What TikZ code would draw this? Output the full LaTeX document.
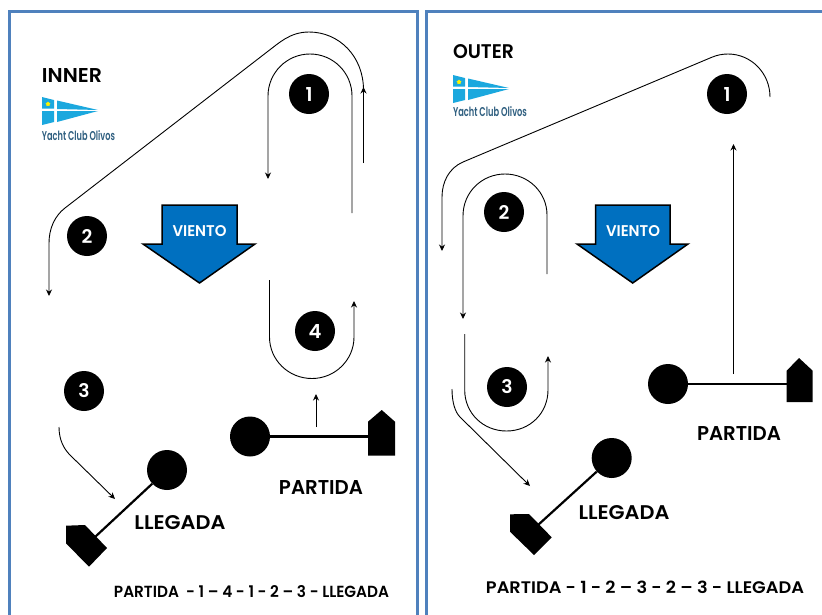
\documentclass[tikz,border=0pt]{standalone}
\usepackage{graphicx}
\usepackage{fontspec}
\setmainfont{Poppins}[BoldFont={Poppins SemiBold}]
\usetikzlibrary{arrows.meta,shapes.geometric}
\definecolor{panelblue}{HTML}{4F81BD}
\definecolor{windblue}{HTML}{0070C0}
\definecolor{flagblue}{HTML}{1BA8DE}
\definecolor{logotext}{HTML}{2F5F80}
\newcommand{\lbl}[3]{\resizebox{#1pt}{#2pt}{\bfseries #3}}
\tikzset{
  panel/.style={draw=panelblue,line width=3pt},
  buoy/.style={circle,fill=black,minimum size=40pt,inner sep=0pt,text=white},
  startdot/.style={circle,fill=black,minimum size=40pt,inner sep=0pt},
  boat/.style={fill=black},
  gateline/.style={line width=2.2pt,black},
  course/.style={line width=0.9pt,black},
  leg/.style={course,-{Stealth[length=6.5pt,width=6pt]}},
  wind/.style={draw=black,line width=1.5pt,fill=windblue,miter limit=10},
  caption/.style={inner sep=0pt,text=black},
  ycoflag/.pic={
    \fill[flagblue] (42,97) -- (54,100) -- (54,108.5) -- (42,108.5) -- cycle;
    \fill[flagblue] (42,111) -- (54,111) -- (54,122) -- (42,125) -- cycle;
    \fill[flagblue] (57,100.5) -- (98,110) -- (57,109) -- cycle;
    \fill[flagblue] (57,111) -- (98,111) -- (57,122) -- cycle;
    \node[star,star points=5,fill=yellow,minimum size=5pt,inner sep=0pt] at (48,104) {};
  }
}
\begin{document}
\begin{tikzpicture}[x=1pt,y=-1pt]
\useasboundingbox (0,0) rectangle (822,614);
\fill[white] (0,0) rectangle (822,614);
% panels
\draw[panel] (9,620) -- (9,11) -- (417.5,11) -- (417.5,620);
\draw[panel] (426.7,620) -- (426.7,11) -- (830,11);

% ---------- INNER ----------
\node[caption] (innertitle) at (72,75) {\lbl{60}{14}{INNER}};
\pic at (0,0) {ycoflag};
\node[caption,text=logotext] (logoa) at (78.5,136) {\resizebox{73pt}{10pt}{\bfseries Yacht Club Olivos}};

\node[buoy] (a1) at (309,94) {\resizebox{!}{14pt}{\bfseries 1}};
\node[buoy] (a2) at (87,236) {\resizebox{!}{14pt}{\bfseries 2}};
\node[buoy] (a3) at (84,391) {\resizebox{!}{14pt}{\bfseries 3}};
\node[buoy] (a4) at (315,331) {\resizebox{!}{14pt}{\bfseries 4}};

\draw[wind] (162,205) -- (237,205) -- (237,244) -- (255,244) -- (199.5,283) -- (143,244) -- (162,244) -- cycle;
\node[caption,text=white] (awind) at (199.5,231) {\resizebox{54pt}{11pt}{\bfseries VIENTO}};

\coordinate (aOutStart) at (363.5,163);
\coordinate (aOutEnd) at (49,296);
\draw[leg] (aOutStart) -- (363.5,87);
\draw[leg] (363.5,90) .. controls (363.5,56.6) and (339.4,32) .. (309,32)
  .. controls (290,32) and (279,43) .. (267,52) -- (65,208)
  .. controls (54.5,216) and (49,229) .. (49,243) -- (aOutEnd);
\coordinate (aInStart) at (352,213);
\coordinate (aInEnd) at (268,179);
\draw[leg] (aInStart) -- (352,96) .. controls (352,72.8) and (333.2,54) .. (310,54)
  .. controls (286.8,54) and (268,72.8) .. (268,96) -- (aInEnd);
\coordinate (aBotStart) at (269.5,280);
\coordinate (aBotEnd) at (354,301);
\draw[leg] (aBotStart) -- (269.5,337) .. controls (269.5,360) and (288.5,378.5) .. (312,378.5)
  .. controls (335,378.5) and (354,360) .. (354,337) -- (aBotEnd);
\coordinate (aFinStart) at (59,427);
\coordinate (aFinEnd) at (115,499);
\draw[leg] (aFinStart) .. controls (59,440) and (64,449) .. (70,455) -- (aFinEnd);

% start line inner
\node[startdot] (aStartDot) at (250,436.5) {};
\coordinate (aStartBoat) at (369,436.5);
\fill[boat] (368,421.7) -- (381.7,410) -- (395,421.7) -- (395,455.7) -- (368,455.7) -- cycle;
\draw[gateline] (aStartDot) -- (aStartBoat);
\coordinate (aUpStart) at (316,427);
\coordinate (aUpEnd) at (316,394);
\draw[leg] (aUpStart) -- (aUpEnd);
\node[caption] (apartida) at (321,487) {\lbl{84}{14}{PARTIDA}};

% finish line inner
\node[startdot] (aFinDot) at (167,470) {};
\coordinate (aFinBoat) at (95,537);
\fill[boat] (66,525.7) -- (85,525) -- (107,548) -- (89,566.7) -- (66,543.3) -- cycle;
\draw[gateline] (aFinDot) -- (aFinBoat);
\node[caption] (allegada) at (180,523) {\lbl{91}{14}{LLEGADA}};
\node[caption] (aseq) at (251.5,592) {\lbl{275}{12}{PARTIDA\ \ - 1 -- 4 - 1 - 2 -- 3 - LLEGADA}};

% ---------- OUTER ----------
\node[caption] (outertitle) at (483.5,52) {\lbl{61}{14}{OUTER}};
\pic at (411,-22) {ycoflag};
\node[caption,text=logotext] (logob) at (490,112) {\resizebox{74pt}{10pt}{\bfseries Yacht Club Olivos}};

\node[buoy] (b1) at (727,94) {\resizebox{!}{14pt}{\bfseries 1}};
\node[buoy] (b2) at (504,212) {\resizebox{!}{14pt}{\bfseries 2}};
\node[buoy] (b3) at (507,387) {\resizebox{!}{14pt}{\bfseries 3}};

\draw[wind] (595.7,205) -- (670,205) -- (670,244) -- (688,244) -- (632.7,283) -- (577,244) -- (595.7,244) -- cycle;
\node[caption,text=white] (bwind) at (633,231) {\resizebox{54pt}{11pt}{\bfseries VIENTO}};

\coordinate (bOutStart) at (770,97);
\coordinate (bOutEnd) at (442,251);
\draw[leg] (bOutStart) .. controls (770,73) and (751,54) .. (728,54)
  .. controls (722.4,54) and (716.9,55.1) .. (711.7,57.3) -- (463,162)
  .. controls (449,168) and (442,182) .. (442,197) -- (bOutEnd);
\coordinate (bInStart) at (547,274);
\coordinate (bInEnd) at (463,319);
\draw[leg] (bInStart) -- (547,215) .. controls (547,192) and (528,174) .. (505,174)
  .. controls (482,174) and (463,192) .. (463,216) -- (bInEnd);
\coordinate (bBotStart) at (464.7,334);
\coordinate (bBotEnd) at (548,356);
\draw[leg] (bBotStart) -- (464.7,390) .. controls (464.7,413) and (483,431) .. (506.5,431)
  .. controls (530,431) and (548,413) .. (548,390) -- (bBotEnd);
\coordinate (bFinStart) at (452,389);
\coordinate (bFinEnd) at (530,486);
\draw[leg] (bFinStart) .. controls (452,402) and (455,412) .. (460,417) -- (bFinEnd);
\coordinate (bLongStart) at (733.5,374);
\coordinate (bLongEnd) at (733.5,144);
\draw[leg] (bLongStart) -- (bLongEnd);

% start line outer
\node[startdot] (bStartDot) at (668,384) {};
\coordinate (bStartBoat) at (788,384);
\fill[boat] (786.7,370.7) -- (799,358) -- (812.7,370.7) -- (812.7,402) -- (786.7,402) -- cycle;
\draw[gateline] (bStartDot) -- (bStartBoat);
\node[caption] (bpartida) at (739,433) {\lbl{84}{14}{PARTIDA}};

% finish line outer
\node[startdot] (bFinDot) at (611.7,458) {};
\coordinate (bFinBoat) at (538,525);
\fill[boat] (510,514.3) -- (529,514) -- (551.7,537.3) -- (534,555) -- (510,531.7) -- cycle;
\draw[gateline] (bFinDot) -- (bFinBoat);
\node[caption] (bllegada) at (624,513) {\lbl{91}{14}{LLEGADA}};
\node[caption] (bseq) at (645,587) {\lbl{318}{12.5}{PARTIDA - 1 - 2 -- 3 - 2 -- 3 - LLEGADA}};
\end{tikzpicture}
\end{document}
